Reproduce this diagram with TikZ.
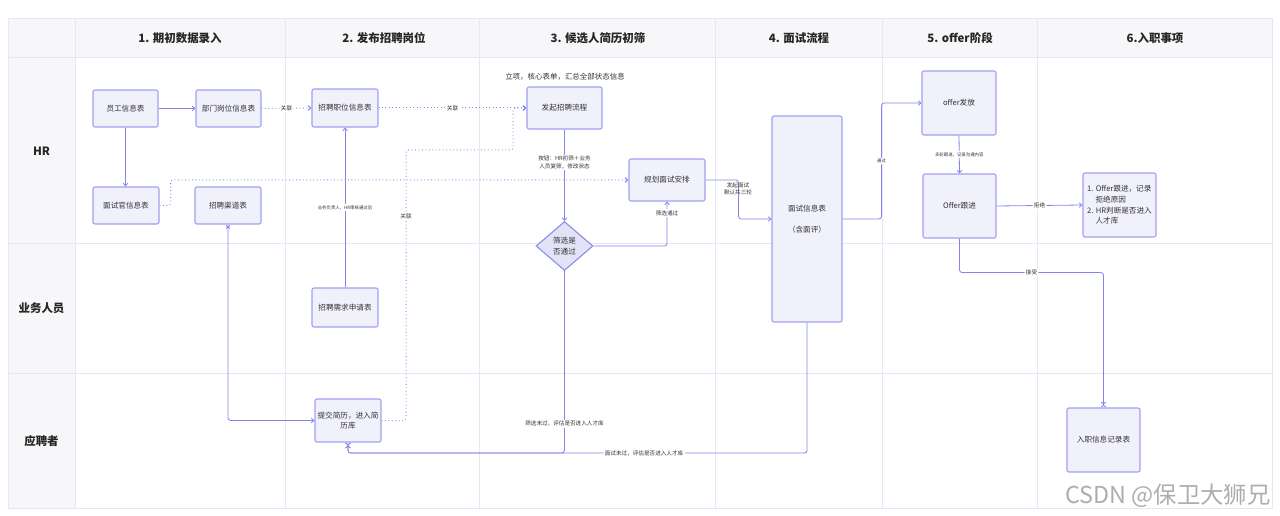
\documentclass[tikz,border=0pt]{standalone}
\usepackage{fontspec}
\setmainfont{Noto Sans CJK SC}
\usetikzlibrary{arrows.meta,shapes.geometric,calc}
\definecolor{gridc}{HTML}{E6E6F7}
\definecolor{headc}{HTML}{F7F7F9}
\definecolor{boxd}{HTML}{A0A0F2}
\definecolor{boxf}{HTML}{F1F1FC}
\definecolor{linec}{HTML}{8484EE}
\definecolor{txt}{HTML}{333333}
\definecolor{diaf}{HTML}{E3E3F7}
\definecolor{diad}{HTML}{8A8AE6}
\tikzset{
  box/.style={draw=boxd, fill=boxf, line width=0.8pt, rounded corners=1.5pt, inner sep=1pt, align=center, font=\fontsize{5.7}{8}\selectfont, text=txt},
  conn/.style={draw=linec, line width=0.6pt, rounded corners=2pt, -{Straight Barb[length=2pt,width=3.5pt]}},
  dotc/.style={conn, dotted, line width=0.75pt},
  bowc/.style={draw=linec, line width=0.6pt, rounded corners=2pt, -{Straight Barb[length=1.5pt,width=3.5pt]Straight Barb[reversed,length=1.5pt,width=3.5pt]}},
  lbl/.style={fill=white, inner sep=1pt, font=\fontsize{4.2}{5.4}\selectfont, text=txt, align=center},
  tinylbl/.style={lbl, font=\fontsize{3.3}{4.2}\selectfont},
  head/.style={font=\fontsize{8.6}{10}\selectfont\bfseries, text=black!85},
  gridl/.style={draw=gridc, line width=0.6pt}
}
\newcommand{\bx}[7][]{\node[box,#1, minimum width={(#4-#2)*0.75pt}, minimum height={(#5-#3)*0.75pt}] (#6) at ({(#2+#4)/2},{(#3+#5)/2}) {#7};}
\begin{document}
\begin{tikzpicture}[x=0.75pt,y=-0.75pt]
\useasboundingbox (0,0) rectangle (1280,516);
% lanes
\fill[headc] (8,18) rectangle (1272,57);
\fill[headc] (8,57) rectangle (75,508);
\foreach \yy in {57,243,373} \draw[gridl] (8,\yy) -- (1272,\yy);
\foreach \xx in {75,285,479,715,882,1037} \draw[gridl] (\xx,18) -- (\xx,508);
\draw[gridl] (8,18) rectangle (1272,508);
% headers
\node[head] (h1) at (180,38) {1. 期初数据录入};
\node[head] (h2) at (384,38) {2. 发布招聘岗位};
\node[head] (h3) at (598,38) {3. 候选人简历初筛};
\node[head] (h4) at (799,38) {4. 面试流程};
\node[head] (h5) at (960,38) {5. offer阶段};
\node[head] (h6) at (1155,38) {6.入职事项};
\node[head] (r1) at (41.5,151) {HR};
\node[head] (r2) at (41.5,308) {业务人员};
\node[head] (r3) at (41.5,441) {应聘者};
% boxes
\bx{93}{90}{158}{127}{emp}{员工信息表}
\bx{196}{90}{261}{127}{dept}{部门岗位信息表}
\bx{312}{89}{378}{127}{pos}{招聘职位信息表}
\bx{527}{87}{602}{129}{start}{发起招聘流程}
\node[text=txt, font=\fontsize{5.6}{7}\selectfont] (note) at (565,77) {立项，核心表单，汇总全部状态信息};
\bx{93}{187}{159}{224}{itv}{面试官信息表}
\bx{195}{187}{261}{224}{chan}{招聘渠道表}
\bx{312}{288}{378}{327}{req}{招聘需求申请表}
\bx{315}{399}{381}{442}{sub}{提交简历，进入简\\历库}
\bx{629}{159}{705}{201}{plan}{规划面试安排}
\node[diamond, draw=diad, fill=diaf, line width=0.8pt, minimum width=57*0.75pt, minimum height=49*0.75pt, inner sep=0pt, aspect=1.16, align=center, font=\fontsize{5.7}{8}\selectfont, text=txt] (dia) at (564.5,246) {筛选是\\否通过};
\bx{772}{116}{842}{322}{iv}{面试信息表\\[8pt]（含面评）}
\bx{922}{71}{996}{135}{offer}{offer发放}
\bx{923}{174}{996}{238}{fu}{Offer跟进}
\bx[align=left]{1083}{173}{1156}{237}{rej}{1. Offer跟进，记录\\\hspace*{1.1em}拒绝原因\\2. HR判断是否进入\\\hspace*{1.1em}人才库}
\bx{1067}{408}{1140}{472}{onb}{入职信息记录表}
% helper coordinates
\coordinate (bot) at (0,453);
\coordinate (c7a) at (406,150);
\coordinate (c7b) at (513,150);
% connectors
\draw[conn] (emp.east) -- (dept.west);
\draw[conn] (emp.south) -- (emp.south |- itv.north);
\draw[dotc] (dept.east) -- node[lbl]{关联} (pos.west);
\draw[dotc] (pos.east) -- node[lbl]{关联} (start.west);
\draw[conn] (req.north) -- node[tinylbl, pos=0.5]{业务负责人，HR审核通过后} (pos.south);
\draw[dotc] (itv.east) -- ++(11,0) |- (plan.west);
\draw[dotc] (sub.east) -| (c7a) -- (c7b) |- (start.west);
\node[lbl] (l7) at (406,216) {关联};
\draw[bowc, arrows={-{Straight Barb[length=2pt,width=3.5pt]}}] (chan.south) |- (sub.west);
\draw[draw=linec, line width=0.6pt] ($(chan.south)+(-2,1)$) -- ($(chan.south)+(2,4)$) ($(chan.south)+(2,1)$) -- ($(chan.south)+(-2,4)$);
\draw[conn] (start.south) -- node[lbl, pos=0.36]{按钮：HR初筛＋业务\\人员复筛，修改状态} (dia.north);
\draw[conn] (dia.east) -| node[lbl, pos=0.87]{筛选通过} (plan.south);
\draw[bowc] (dia.south) -- node[lbl, pos=0.84]{筛选未过，评估是否进入人才库} (dia.south |- bot) -| (sub.south);
\draw[bowc] (iv.south) -- (iv.south |- bot) -- node[lbl, pos=0.355]{面试未过，评估是否进入人才库} (sub.south |- bot) -- (sub.south);
\draw[conn] (plan.east) -- ++(33,0) coordinate (c13) |- (iv.west);
\node[lbl, fill=none] (l13) at (738,189) {发起面试\\默认共三轮};
\draw[conn] (iv.east) -- ++(39,0) |- node[tinylbl, pos=0.25]{通过} (offer.west);
\draw[conn] (offer.south) -- node[tinylbl]{多轮跟进，记录沟通内容} (fu.north);
\draw[conn] (fu.east) -- node[lbl]{拒绝} (rej.west);
\draw[bowc] (fu.south) -- ++(0,34) -| node[lbl, pos=0.25]{接受} (onb.north);
% watermark
\node[text=black!32, font=\fontsize{17.5}{19}\selectfont] (wm) at (1168,496) {CSDN @保卫大狮兄};
\end{tikzpicture}
\end{document}
